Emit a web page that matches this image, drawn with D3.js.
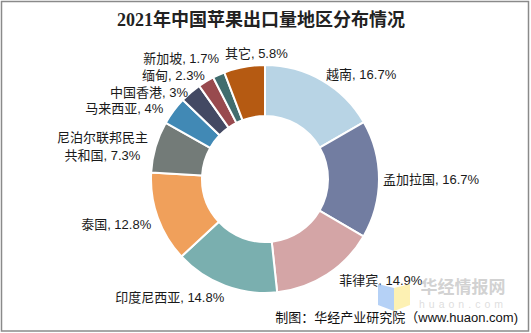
<!DOCTYPE html>
<html><head><meta charset="utf-8">
<script src="https://cdn.jsdelivr.net/npm/d3@7"></script>
<style>
html,body{margin:0;padding:0;background:#fff;}
svg{display:block;}
</style></head>
<body>
<svg id="chart" width="531" height="333"></svg>
<script>
const title = "2021年中国苹果出口量地区分布情况";
const categories = ["越南","孟加拉国","菲律宾","印度尼西亚","泰国","尼泊尔联邦民主共和国","马来西亚","中国香港","缅甸","新加坡","其它"];
const values = [16.7,16.7,14.9,14.8,12.8,7.3,4,3,2.3,1.7,5.8];
const colors = ["#B8D4E5","#727DA1","#D4A5A6","#7AAFAF","#F0A05B","#737B78","#4189B5","#434963","#984A4E","#416D6E","#B55A12"];
const source = "制图：华经产业研究院（www.huaon.com)";

// label layout tweaks (dx, dy) relative to the computed outside-end point
const labelNudge = {
  "越南":[0,1], "孟加拉国":[-4,0], "菲律宾":[8,-1], "印度尼西亚":[2,4], "泰国":[1,4],
  "尼泊尔联邦民主共和国":[0,2], "马来西亚":[-4,2], "中国香港":[2.5,5.5], "缅甸":[3,0.5],
  "新加坡":[3.5,-9.5], "其它":[-18,-6]
};
const labelLines = { "尼泊尔联邦民主共和国": ["尼泊尔联邦民主","共和国, 7.3%"] };

const svg = d3.select("#chart");
const cx = 265, cy = 179, R = 114, r0 = 63;
const font = "'Liberation Sans', Arial, 'Noto Sans CJK SC', sans-serif";

svg.append("rect").attr("x",1.5).attr("y",1.5).attr("width",527).attr("height",329.5)
  .attr("fill","#fff").attr("stroke","#8a8a8a").attr("stroke-width",1.5);

svg.append("text").attr("x",261).attr("y",20).attr("text-anchor","middle")
  .attr("dominant-baseline","central")
  .attr("font-family","'Liberation Serif', 'Noto Sans CJK SC', serif")
  .attr("font-weight","bold").attr("font-size",18).attr("fill","#222").text(title);

const data = categories.map((c,i)=>({name:c, value:values[i], color:colors[i]}));
const pie = d3.pie().value(d=>d.value).sort(null);
const arcs = pie(data);
const arc = d3.arc().innerRadius(r0).outerRadius(R);

const g = svg.append("g").attr("transform",`translate(${cx},${cy})`);
g.selectAll("path").data(arcs).join("path")
  .attr("d",arc).attr("fill",d=>d.data.color)
  .attr("stroke","#fff").attr("stroke-width",2);

const lg = g.append("g").attr("font-family",font).attr("font-size",13).attr("fill","#1a1a1a");
const LR = 122;
arcs.forEach(d=>{
  const a = (d.startAngle+d.endAngle)/2;
  let x = Math.sin(a)*LR, y = -Math.cos(a)*LR;
  const n = labelNudge[d.data.name]||[0,0];
  x += n[0]; y += n[1];
  const right = Math.sin(a) >= 0 || d.data.name==="其它";
  const lines = labelLines[d.data.name] || [`${d.data.name}, ${d.data.value}%`];
  if(lines.length===1){
    lg.append("text").attr("x",x).attr("y",y).attr("dy","0.35em")
      .attr("text-anchor", right?"start":"end").text(lines[0]);
  } else {
    const t = lg.append("text").attr("text-anchor","middle");
    const spans = lines.map((l,i)=>t.append("tspan").attr("y",y+(i-(lines.length-1)/2)*18).attr("dy","0.35em").text(l));
    const maxW = d3.max(spans, s=>s.node().getComputedTextLength());
    const mx = right ? x+maxW/2 : x-maxW/2;
    spans.forEach(s=>s.attr("x",mx));
  }
});

svg.append("text").attr("x",518).attr("y",317).attr("text-anchor","end")
  .attr("dominant-baseline","central").attr("font-family",font).attr("font-size",13)
  .attr("fill","#111").text(source);

// watermark
const wm = svg.append("g").attr("opacity",0.85);
wm.append("path").attr("d","M378,284 L394,288 L394,311 L378,305 Z").attr("fill","#A9C9F5");
wm.append("path").attr("d","M394,288 L410,284 L410,305 L394,311 Z").attr("fill","#FDEFA6");
wm.append("text").attr("x",463).attr("y",285).attr("text-anchor","middle").attr("dominant-baseline","central")
  .attr("font-family","'Noto Sans CJK SC', sans-serif").attr("font-weight","bold").attr("font-size",17)
  .attr("fill","#bdbdbd").attr("fill-opacity",0.8).text("华经情报网");
wm.append("text").attr("x",463).attr("y",304).attr("text-anchor","middle").attr("dominant-baseline","central")
  .attr("font-family",font).attr("font-size",10.5).attr("letter-spacing","4px")
  .attr("fill","#cfcfcf").attr("fill-opacity",0.8).text("huaon.com");
</script>
</body></html>
